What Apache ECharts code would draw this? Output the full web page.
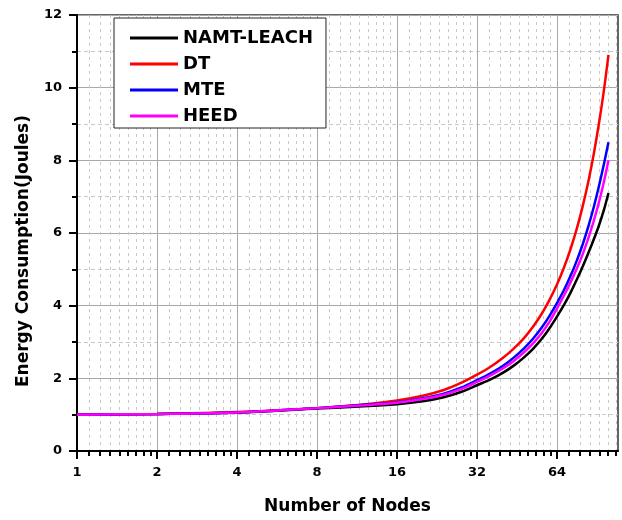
<!DOCTYPE html>
<html>
  <head>
    <meta charset="utf-8" />
    <title>Energy Consumption</title>
    <script src="https://cdn.jsdelivr.net/npm/echarts@6.0.0/dist/echarts.min.js"></script>
    <style>
      html, body { margin: 0; padding: 0; background: #fff; }
      #chart { width: 622px; height: 520px; }
    </style>
  </head>
  <body>
    <div id="chart"></div>
    <script type="text/javascript">
      // number of nodes (x) and energy in joules for each protocol
      const nodes = [1, 2, 4, 8, 12, 16, 20, 24, 28, 32, 36, 40, 44, 48, 52, 56, 60, 64, 68, 72, 76, 80, 84, 88, 92, 96, 100];
      const namtLeach = [1.00, 1.02, 1.06, 1.17, 1.23, 1.29, 1.37, 1.48, 1.63, 1.81, 1.97, 2.15, 2.35, 2.57, 2.81, 3.08, 3.38, 3.70, 4.02, 4.36, 4.72, 5.08, 5.45, 5.82, 6.20, 6.62, 7.10];
      const dt        = [1.00, 1.02, 1.07, 1.18, 1.28, 1.39, 1.52, 1.68, 1.88, 2.10, 2.32, 2.56, 2.82, 3.10, 3.42, 3.77, 4.16, 4.58, 5.05, 5.56, 6.12, 6.74, 7.42, 8.17, 9.00, 9.90, 10.90];
      const mte       = [1.00, 1.02, 1.06, 1.18, 1.27, 1.34, 1.45, 1.58, 1.75, 1.95, 2.14, 2.34, 2.57, 2.82, 3.09, 3.39, 3.72, 4.07, 4.43, 4.82, 5.24, 5.69, 6.18, 6.71, 7.28, 7.88, 8.50];
      const heed      = [1.00, 1.02, 1.06, 1.18, 1.26, 1.33, 1.43, 1.55, 1.71, 1.90, 2.08, 2.27, 2.48, 2.71, 2.96, 3.24, 3.56, 3.92, 4.28, 4.64, 5.02, 5.42, 5.86, 6.33, 6.84, 7.39, 8.00];
      const seriesNames = ['NAMT-LEACH', 'DT', 'MTE', 'HEED'];
      const xTickLabels = [1, 2, 4, 8, 16, 32, 64];
      const yTicks = [0, 2, 4, 6, 8, 10, 12];

      const xMaxNodes = 108.6; // right end of the axis
      const xMax = Math.log2(xMaxNodes);
      const colors = ['#000000', '#ff0000', '#0000ff', '#ff00ff'];
      const font = '"DejaVu Sans", sans-serif';

      // axis is base-2 logarithmic: place everything at log2(n)
      const majorVals = xTickLabels.map(v => Math.log2(v));
      const minorVals = [];
      xTickLabels.forEach(base => {
        for (let j = 1; j <= 8; j++) {
          const v = Math.log2(base * (1 + j / 9));
          if (v < xMax) minorVals.push(v);
        }
      });

      function toPoints(values) {
        return nodes.map((n, i) => [Math.log2(n), values[i]]);
      }

      const chart = echarts.init(document.getElementById('chart'), null, { renderer: 'canvas' });

      const option = {
        animation: false,
        backgroundColor: '#ffffff',
        grid: {
          left: 77, right: 4, top: 15, bottom: 68,
          show: true, borderColor: '#333', borderWidth: 1.5, backgroundColor: 'transparent'
        },
        legend: {
          data: seriesNames,
          orient: 'vertical',
          left: 114, top: 18,
          padding: [11, 13, 3, 16],
          itemGap: 8,
          itemWidth: 48,
          itemHeight: 3,
          icon: 'rect',
          backgroundColor: '#fff',
          borderColor: '#222',
          borderWidth: 1,
          textStyle: { fontFamily: font, fontWeight: 'bold', fontSize: 18, lineHeight: 18, color: '#000' }
        },
        xAxis: [
          {
            type: 'value',
            min: 0, max: xMax,
            name: 'Number of Nodes',
            nameLocation: 'middle',
            nameGap: 47,
            nameTextStyle: { fontFamily: font, fontWeight: 'bold', fontSize: 17, color: '#000' },
            axisLine: { show: true, onZero: false, lineStyle: { color: '#000', width: 2 } },
            axisTick: { show: true, customValues: majorVals, length: 8, lineStyle: { color: '#000', width: 2 } },
            axisLabel: {
              customValues: majorVals,
              margin: 15,
              fontFamily: font, fontWeight: 'bold', fontSize: 13, color: '#000',
              formatter: v => String(Math.round(Math.pow(2, v)))
            },
            splitLine: { show: true, lineStyle: { color: '#a8a8a8', width: 1 } }
          },
          {
            type: 'value',
            min: 0, max: xMax,
            position: 'bottom',
            axisLine: { show: false },
            axisTick: { show: true, customValues: minorVals, length: 5, lineStyle: { color: '#000', width: 2 } },
            axisLabel: { show: false },
            splitLine: { show: true, lineStyle: { color: '#c8c8c8', width: 1, type: [3, 4] } }
          }
        ],
        yAxis: {
          type: 'value',
          min: 0, max: 12, interval: 2,
          name: 'Energy Consumption(Joules)',
          nameLocation: 'middle',
          nameGap: 45,
          nameTextStyle: { fontFamily: font, fontWeight: 'bold', fontSize: 17, color: '#000', padding: [0, 36, 0, 0] },
          axisLine: { show: true, onZero: false, lineStyle: { color: '#000', width: 2 } },
          axisTick: { show: true, length: 8, lineStyle: { color: '#000', width: 2 } },
          minorTick: { show: true, splitNumber: 2, length: 5, lineStyle: { color: '#000', width: 2 } },
          axisLabel: {
            margin: 15,
            fontFamily: font, fontWeight: 'bold', fontSize: 13, color: '#000',
            formatter: v => yTicks.indexOf(v) >= 0 ? String(v) : ''
          },
          splitLine: { show: true, lineStyle: { color: '#a8a8a8', width: 1 } },
          minorSplitLine: { show: true, lineStyle: { color: '#c8c8c8', width: 1, type: [4, 3] } }
        },
        series: [namtLeach, dt, mte, heed].map((vals, i) => ({
          name: seriesNames[i],
          type: 'line',
          xAxisIndex: 0,
          data: toPoints(vals),
          symbol: 'none',
          smooth: 0.3,
          color: colors[i],
          lineStyle: { color: colors[i], width: 2.5 }
        }))
      };

      chart.setOption(option);
    </script>
  </body>
</html>
